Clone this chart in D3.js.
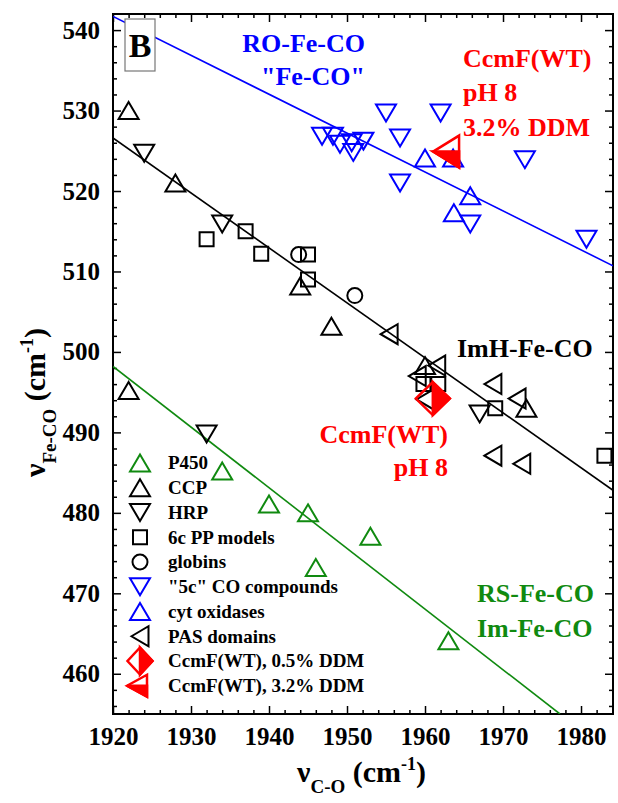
<!DOCTYPE html>
<html><head><meta charset="utf-8">
<script src="https://cdn.jsdelivr.net/npm/d3@7"></script>
<style>
html,body{margin:0;padding:0;background:#fff;}
svg{display:block;}
text{font-family:"Liberation Serif","Times New Roman",serif;font-weight:bold;}
</style></head>
<body>
<svg id="chart" width="618" height="803"></svg>
<script>
// ---------- data ----------
const xTicks = [1920,1930,1940,1950,1960,1970,1980];
const yTicks = [460,470,480,490,500,510,520,530,540];
const p450   = [[1934,485.2],[1940,481.1],[1945,480],[1946,473.2],[1953,477.1],[1963,464.1]];
const ccp    = [[1922,530],[1928,521],[1922,495.2],[1944,508.2],[1948,503.2],[1960,498.3],[1973,493]];
const hrp    = [[1924,524.7],[1934,515.9],[1932,489.8],[1967,492.3]];
const pp6c   = [[1932,514],[1937,515],[1939,512.2],[1945,512.1],[1945,509],[1959.8,496],[1961.7,496],[1969,493],[1983,487.1]];
const globins= [[1943.8,512.1],[1951,507]];
const co5c   = [[1946.8,526.8],[1948.2,526.8],[1949.1,525.8],[1950.6,526],[1950.8,524.8],[1952.1,526.2],[1955,529.7],[1956.8,526.6],[1956.8,521],[1962,529.7],[1965.8,515.9],[1972.8,523.9],[1980.7,514]];
const cytox  = [[1960,524.1],[1963.6,524.1],[1965.8,519.4],[1963.7,517.3]];
const pas    = [[1955.4,502.2],[1959,497],[1961.5,498.3],[1960,494.1],[1968.7,496],[1971.8,494.2],[1968.7,487.1],[1972.4,486.1]];
const ccmf05 = [[1961,494.2]];
const ccmf32 = [[1962.7,524.9]];
const fitBlue  = [[1920,541.7],[1984.1,510.7]];
const fitBlack = [[1920,526.6],[1984.1,482.8]];
const fitGreen = [[1920,498.2],[1977.3,455]];
const legendLabels = ["P450","CCP","HRP","6c PP models","globins","\"5c\" CO compounds","cyt oxidases","PAS domains","CcmF(WT), 0.5% DDM","CcmF(WT), 3.2% DDM"];

// ---------- setup ----------
const svg = d3.select("#chart");
const L=113, T=14, R=613, B=714;
const x = d3.scaleLinear().domain([1920,1984.1]).range([L,R]);
const y = d3.scaleLinear().domain([455,542]).range([B,T]);
const BLUE="#0000ff", GREEN="#108a10", RED="#ff0000", BLACK="#000";

svg.append("clipPath").attr("id","clip").append("rect")
  .attr("x",L).attr("y",T).attr("width",R-L).attr("height",B-T);

// ---------- axes ----------
const minorX = d3.range(1920,1985,2).filter(v=>v%10!==0);
const minorY = d3.range(456,542,2).filter(v=>v%10!==0);
function styleAxis(g){ g.select(".domain").remove(); g.selectAll("line").attr("stroke","#000").attr("stroke-width",1.5);
  g.selectAll("text").attr("font-size",25).attr("fill","#000").attr("font-family","Liberation Serif, serif").attr("font-weight","bold"); }
svg.append("g").attr("transform",`translate(0,${B})`).call(d3.axisBottom(x).tickValues(xTicks).tickSize(-8).tickPadding(13).tickFormat(d3.format("d"))).call(styleAxis);
svg.append("g").attr("transform",`translate(0,${B})`).call(d3.axisBottom(x).tickValues(minorX).tickSize(-4).tickFormat("")).call(styleAxis);
svg.append("g").attr("transform",`translate(0,${T})`).call(d3.axisTop(x).tickValues(xTicks).tickSize(-8).tickFormat("")).call(styleAxis);
svg.append("g").attr("transform",`translate(0,${T})`).call(d3.axisTop(x).tickValues(minorX).tickSize(-4).tickFormat("")).call(styleAxis);
svg.append("g").attr("transform",`translate(${L},0)`).call(d3.axisLeft(y).tickValues(yTicks).tickSize(-8).tickPadding(13).tickFormat(d3.format("d"))).call(styleAxis);
svg.append("g").attr("transform",`translate(${L},0)`).call(d3.axisLeft(y).tickValues(minorY).tickSize(-4).tickFormat("")).call(styleAxis);
svg.append("g").attr("transform",`translate(${R},0)`).call(d3.axisRight(y).tickValues(yTicks).tickSize(-8).tickFormat("")).call(styleAxis);
svg.append("g").attr("transform",`translate(${R},0)`).call(d3.axisRight(y).tickValues(minorY).tickSize(-4).tickFormat("")).call(styleAxis);
svg.append("rect").attr("x",L).attr("y",T).attr("width",R-L).attr("height",B-T)
  .attr("fill","none").attr("stroke","#000").attr("stroke-width",2);

// ---------- fit lines ----------
const line = d3.line().x(d=>x(d[0])).y(d=>y(d[1]));
const gl = svg.append("g").attr("clip-path","url(#clip)");
[[fitBlue,BLUE],[fitBlack,BLACK],[fitGreen,GREEN]].forEach(([d,c])=>{
  gl.append("path").attr("d",line(d)).attr("fill","none").attr("stroke",c).attr("stroke-width",1.6);
});

// ---------- symbol shapes ----------
const shapes = {
  up:   (w,h)=>`M0,${-h/2}L${w/2},${h/2}L${-w/2},${h/2}Z`,
  down: (w,h)=>`M0,${h/2}L${w/2},${-h/2}L${-w/2},${-h/2}Z`,
  left: (w,h)=>`M${-w/2},0L${w/2},${-h/2}L${w/2},${h/2}Z`,
  square:(w,h)=>`M${-w/2},${-h/2}H${w/2}V${h/2}H${-w/2}Z`,
  circle:(w,h)=>`M${w/2},0A${w/2},${h/2} 0 1,1 ${-w/2},0A${w/2},${h/2} 0 1,1 ${w/2},0Z`,
  diamond:(w,h)=>`M0,${-h/2}L${w/2},0L0,${h/2}L${-w/2},0Z`,
  diamondRight:(w,h)=>`M0,${-h/2}L${w/2},0L0,${h/2}Z`,
  leftBottom:(w,h)=>`M${-w/2},0L${w/2},0L${w/2},${h/2}Z`
};
const gp = svg.append("g");
function plot(data, shape, w, h, color){
  gp.selectAll(null).data(data).enter().append("path")
    .attr("transform",d=>`translate(${x(d[0])},${y(d[1])})`)
    .attr("d",shapes[shape](w,h)).attr("fill","none").attr("stroke",color).attr("stroke-width",2);
}
function half(data, shapeOut, shapeFill, w, h){
  const g = gp.selectAll(null).data(data).enter().append("g")
    .attr("transform",d=>`translate(${x(d[0])},${y(d[1])})`);
  g.append("path").attr("d",shapes[shapeOut](w,h)).attr("fill","none").attr("stroke",RED).attr("stroke-width",2.5).attr("stroke-linejoin","miter");
  g.append("path").attr("d",shapes[shapeFill](w,h)).attr("fill",RED).attr("stroke",RED).attr("stroke-width",2.5);
}
plot(p450,"up",20,17,GREEN);
plot(ccp,"up",20,17,BLACK);
plot(hrp,"down",20,17,BLACK);
plot(pp6c,"square",14,14,BLACK);
plot(globins,"circle",15,15,BLACK);
plot(co5c,"down",20,17,BLUE);
plot(cytox,"up",20,17,BLUE);
plot(pas,"left",17,20,BLACK);
half(ccmf05,"diamond","diamondRight",34,33);
half(ccmf32,"left","leftBottom",26,32);

// ---------- legend ----------
const lg = svg.append("g");
const lx=140, ly0=463, ldy=24.75;
const legendSpec = [["up",20,17,GREEN],["up",20,17,BLACK],["down",20,17,BLACK],["square",14,14,BLACK],["circle",15,15,BLACK],
  ["down",20,17,BLUE],["up",20,17,BLUE],["left",17,20,BLACK],["diamond",25,27,RED],["left",20,22,RED]];
legendLabels.forEach((lab,i)=>{
  const yy = ly0+i*ldy, s=legendSpec[i];
  const g = lg.append("g").attr("transform",`translate(${lx},${yy})`);
  if(i===8){ g.append("path").attr("d",shapes.diamond(s[1],s[2])).attr("fill","none").attr("stroke",RED).attr("stroke-width",2.5);
             g.append("path").attr("d",shapes.diamondRight(s[1],s[2])).attr("fill",RED).attr("stroke",RED).attr("stroke-width",2.5); }
  else if(i===9){ g.attr("transform",`translate(${lx-3},${yy})`);
             g.append("path").attr("d",shapes.left(s[1],s[2])).attr("fill","none").attr("stroke",RED).attr("stroke-width",2.5);
             g.append("path").attr("d",shapes.leftBottom(s[1],s[2])).attr("fill",RED).attr("stroke",RED).attr("stroke-width",2.5); }
  else g.append("path").attr("d",shapes[s[0]](s[1],s[2])).attr("fill","none").attr("stroke",s[3]).attr("stroke-width",2);
  lg.append("text").attr("x",168).attr("y",yy).attr("dy","0.33em").attr("font-size",19).attr("fill","#000").text(lab);
});

// ---------- annotations ----------
function txt(t,xx,yy,color,anchor,size){ svg.append("text").attr("x",xx).attr("y",yy).attr("fill",color)
  .attr("text-anchor",anchor||"start").attr("font-size",size||26).text(t); }
svg.append("rect").attr("x",125).attr("y",19).attr("width",30).attr("height",52).attr("fill","#fff").attr("stroke","#777").attr("stroke-width",1.2);
txt("B",140,57,"#000","middle",34);
txt("RO-Fe-CO",365,52,BLUE,"end");
txt("\"Fe-CO\"",365,85,BLUE,"end");
txt("CcmF(WT)",463,67,RED);
txt("pH 8",463,101,RED);
txt("3.2% DDM",463,136,RED);
txt("ImH-Fe-CO",457,357,"#000");
txt("CcmF(WT)",448,443,RED,"end");
txt("pH 8",448,476,RED,"end");
txt("RS-Fe-CO",477,602,GREEN);
txt("Im-Fe-CO",477,637,GREEN);

// ---------- axis titles ----------
const xt = svg.append("text").attr("x",297).attr("y",782).attr("font-size",30).attr("fill","#000");
xt.append("tspan").text("ν");
xt.append("tspan").attr("font-size",19).attr("dy",11).text("C-O");
xt.append("tspan").attr("dy",-11).text(" (cm");
xt.append("tspan").attr("font-size",18).attr("dy",-12).text("-1");
xt.append("tspan").attr("dy",12).text(")");
const yt = svg.append("text").attr("transform","translate(45,477) rotate(-90)").attr("font-size",30).attr("fill","#000");
yt.append("tspan").text("ν");
yt.append("tspan").attr("font-size",19).attr("dy",11).text("Fe-CO");
yt.append("tspan").attr("dy",-11).text(" (cm");
yt.append("tspan").attr("font-size",18).attr("dy",-12).text("-1");
yt.append("tspan").attr("dy",12).text(")");
</script>
</body></html>
